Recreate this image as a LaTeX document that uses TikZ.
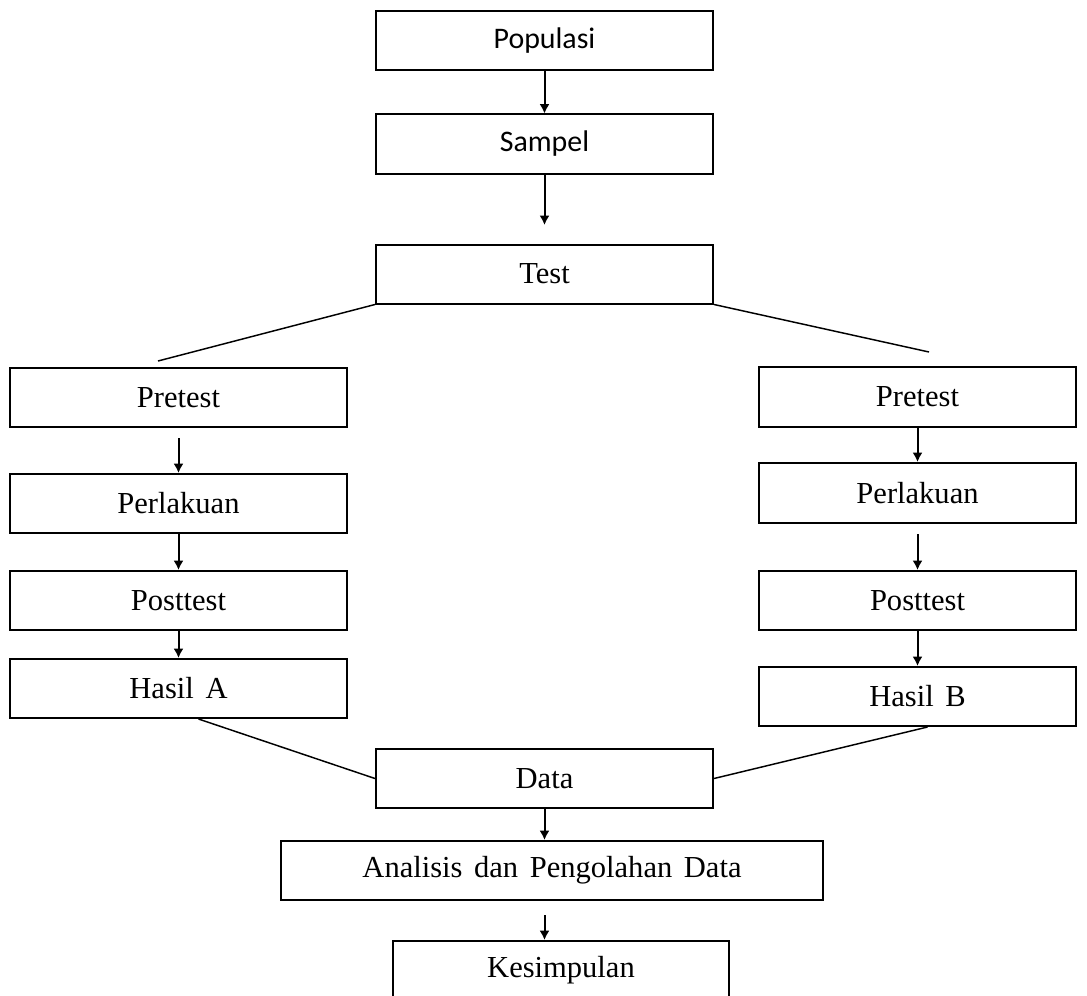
\documentclass[tikz,border=0pt]{standalone}
\usepackage{fontspec}
\setmainfont{Liberation Serif}
\newfontfamily\calibri{Carlito}
\usetikzlibrary{arrows.meta}

\newcommand\wsp{\hspace{0.38em}}

\begin{document}
\begin{tikzpicture}[x = 0.75pt, y = -0.75pt, > = {Latex[length = 7pt, width = 7.5pt]},
	font = \fontsize{22.9}{27}\selectfont,
	box/.style = {draw, line width = 1.5pt, inner sep = 0pt, minimum height = 44.25pt},
	sans/.style = {font = \calibri\fontsize{22.4}{27}\selectfont},
	flow/.style = {->, line width = 1.5pt},
	link/.style = {line width = 1.1pt}]

	% Definition
	
	\def\W{252.75pt}	% Width of middle and left boxes
	\def\V{237.75pt}	% Width of right boxes
	
	\useasboundingbox (0, 0) rectangle (1087, 995);
	
	% Top part
	
	\node [box, sans, minimum width = \W] (pop) at (544.5, 41) {Populasi};
	\node [box, sans, minimum width = \W] (sam) at (544.5, 144) {Sampel};
	\node [box, minimum width = \W] (test) at (544.5, 274) {Test};
	
	\coordinate (samEnd) at (544.5, 225);
	\coordinate (testL) at (158, 361);
	\coordinate (testR) at (929, 352);
	
	\draw [flow] (pop) -- (sam);
	\draw [flow] (sam) -- (samEnd);
	\draw [link] (test.south west) -- (testL);
	\draw [link] (test.south east) -- (testR);
	
	% Left branch
	
	\node [box, minimum width = \W] (preA) at (178.5, 397.5) {Pretest};
	\node [box, minimum width = \W] (perA) at (178.5, 503.5) {Perlakuan};
	\node [box, minimum width = \W] (posA) at (178.5, 600.5) {Posttest};
	\node [box, minimum width = \W] (hasA) at (178.5, 688.5) {Hasil\wsp A};
	
	\draw [flow] (preA.south) ++(0, 10) -- (perA.north);
	\draw [flow] (perA) -- (posA);
	\draw [flow] (posA) -- (hasA);
	
	% Right branch
	
	\node [box, minimum width = \V, minimum height = 45pt] (preB) at (917.5, 397) {Pretest};
	\node [box, minimum width = \V, minimum height = 45pt] (perB) at (917.5, 493) {Perlakuan};
	\node [box, minimum width = \V] (posB) at (917.5, 600.5) {Posttest};
	\node [box, minimum width = \V] (hasB) at (917.5, 696.5) {Hasil\wsp B};
	
	\draw [flow] (preB) -- (perB);
	\draw [flow] (perB.south) ++(0, 10) -- (posB.north);
	\draw [flow] (posB) -- (hasB);
	
	% Bottom part
	
	\node [box, minimum width = \W] (data) at (544.5, 778.5) {Data};
	\node [box, minimum width = 406.5pt] (anal) at (552, 870.5) {Analisis\wsp dan\wsp Pengolahan\wsp Data};
	\node [box, minimum width = 252pt] (kes) at (561, 970.5) {Kesimpulan};
	
	\draw [link] (hasA.south) ++(20, 0) -- (data.west);
	\draw [link] (hasB.south) ++(10, 0) -- (data.east);
	
	\draw [flow] (data) -- (data |- anal.north);
	\draw [flow] (data |- anal.south) ++(0, 14) -- (data |- kes.north);

\end{tikzpicture}
\end{document}
